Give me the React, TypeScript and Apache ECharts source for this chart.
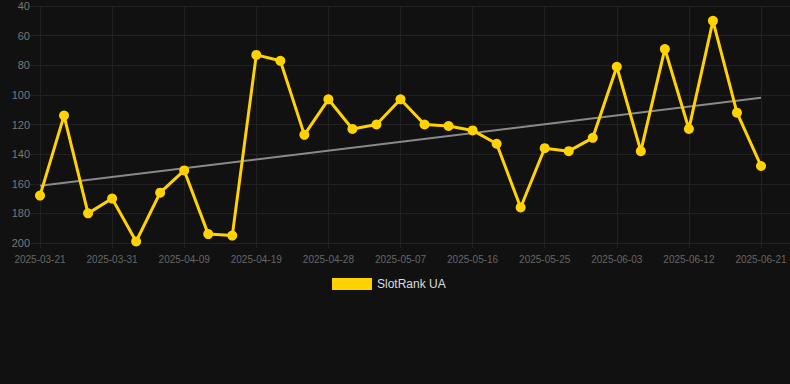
import React, { useEffect, useRef } from "react";
import * as echarts from "echarts";

const categories = [
  "2025-03-21", "2025-03-24", "2025-03-27", "2025-03-31", "2025-04-03", "2025-04-06",
  "2025-04-09", "2025-04-12", "2025-04-16", "2025-04-19", "2025-04-22", "2025-04-25",
  "2025-04-28", "2025-05-01", "2025-05-04", "2025-05-07", "2025-05-10", "2025-05-13",
  "2025-05-16", "2025-05-19", "2025-05-22", "2025-05-25", "2025-05-28", "2025-05-31",
  "2025-06-03", "2025-06-06", "2025-06-09", "2025-06-12", "2025-06-15", "2025-06-18",
  "2025-06-21",
];

const rankValues = [
  168, 114, 180, 170, 199, 166, 151, 194, 195, 73, 77, 127, 103, 123, 120, 103,
  120, 121, 124, 133, 176, 136, 138, 129, 81, 138, 69, 123, 50, 112, 148,
];

const trendStart = 161.4;
const trendEnd = 102;

const yMin = 40;
const yMax = 200;
const yStep = 20;

const FONT = "'Liberation Sans', Arial, sans-serif";
const GRID_COLOR = "#212121";

export default function App() {
  const ref = useRef<HTMLDivElement>(null);

  useEffect(() => {
    if (!ref.current) return;
    const chart = echarts.init(ref.current, null, { renderer: "svg" });
    const trendData = categories.map((_, i) =>
      i === 0 ? trendStart : i === categories.length - 1 ? trendEnd : null
    );
    chart.setOption({
      animation: false,
      backgroundColor: "#111111",
      textStyle: { fontFamily: FONT },
      legend: {
        data: ["SlotRank UA"],
        left: 327,
        top: 273,
        icon: "rect",
        itemWidth: 40,
        itemHeight: 12,
        itemGap: 10,
        textStyle: { color: "#dddddd", fontSize: 12, fontFamily: FONT },
      },
      grid: [
        { left: 40, right: 29, top: 6, bottom: 141 },
        { left: 30, right: 0, top: 6, bottom: 141 },
      ],
      xAxis: [
        {
          type: "category",
          gridIndex: 0,
          data: categories,
          boundaryGap: false,
          axisLine: { show: false },
          axisTick: {
            show: true,
            interval: 2,
            length: 5,
            lineStyle: { color: GRID_COLOR },
          },
          axisLabel: {
            interval: 2,
            color: "#666666",
            fontSize: 10,
            margin: 11,
            fontFamily: FONT,
          },
          splitLine: {
            show: true,
            interval: 2,
            lineStyle: { color: GRID_COLOR, width: 1 },
          },
        },
        {
          type: "value",
          gridIndex: 1,
          min: 0,
          max: 1,
          show: false,
        },
      ],
      yAxis: [
        {
          type: "value",
          gridIndex: 0,
          inverse: true,
          min: yMin,
          max: yMax,
          interval: yStep,
          axisLine: { show: false },
          axisTick: { show: false },
          axisLabel: { color: "#777777", fontSize: 11, margin: 10, fontFamily: FONT },
          splitLine: { show: false },
        },
        {
          type: "value",
          gridIndex: 1,
          inverse: true,
          min: yMin,
          max: yMax,
          interval: yStep,
          axisLine: { show: false },
          axisTick: { show: false },
          axisLabel: { show: false },
          splitLine: { show: true, lineStyle: { color: GRID_COLOR, width: 1 } },
        },
      ],
      series: [
        {
          name: "Trend",
          type: "line",
          xAxisIndex: 0,
          yAxisIndex: 0,
          data: trendData,
          connectNulls: true,
          symbol: "none",
          lineStyle: { color: "#8a8a8a", width: 2 },
          z: 1,
          silent: true,
        },
        {
          name: "SlotRank UA",
          type: "line",
          xAxisIndex: 0,
          yAxisIndex: 0,
          data: rankValues,
          symbol: "circle",
          symbolSize: 10,
          itemStyle: { color: "#FFD200" },
          lineStyle: { color: "#FFD200", width: 3 },
          z: 3,
        },
      ],
    });
    return () => chart.dispose();
  }, []);

  return (
    <div
      ref={ref}
      style={{
        position: "fixed",
        left: 0,
        top: 0,
        width: 790,
        height: 384,
        background: "#111111",
      }}
    />
  );
}
